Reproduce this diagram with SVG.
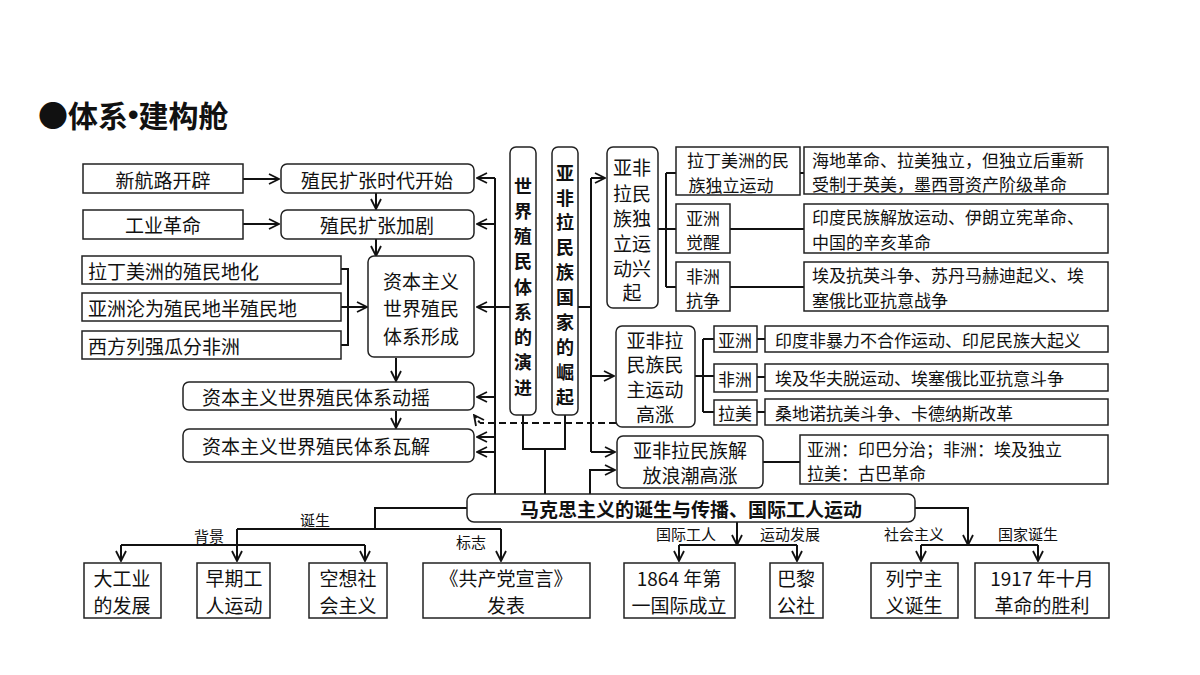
<svg xmlns="http://www.w3.org/2000/svg" width="1200" height="675" viewBox="0 0 1200 675">
<defs>
<marker id="a" viewBox="0 0 12 12" refX="11" refY="6" markerWidth="12" markerHeight="12" markerUnits="userSpaceOnUse" orient="auto"><path d="M1,1 L11,6 L1,11" fill="none" stroke="#111" stroke-width="1.8"/></marker>
</defs>
<style>
text{font-family:"Noto Sans CJK SC","Noto Sans",sans-serif;fill:#111;text-anchor:middle;dominant-baseline:central}
.t{font-size:19px}
.s{font-size:17px}
.b{font-weight:bold;font-size:19px}
.v{font-weight:bold;font-size:18px}
.r{fill:#fff;stroke:#222;stroke-width:1.5}
.c{fill:none;stroke:#111;stroke-width:2}
.l{font-size:15px}
</style>
<rect width="1200" height="675" fill="#fff"/>
<text x="38" y="114" style="font-size:30px;font-weight:bold;text-anchor:start">●体系<tspan style="font-family:'Liberation Sans',sans-serif">•</tspan>建构舱</text>

<g id="connectors">
<path class="c" d="M243,179 H279" marker-end="url(#a)"/>
<path class="c" d="M243,224 H279" marker-end="url(#a)"/>
<path class="c" d="M376,193 V209" marker-end="url(#a)"/>
<path class="c" d="M376,239 V256" marker-end="url(#a)"/>
<path class="c" d="M341,269 H348 V345 H341 M341,307 H367" marker-end="url(#a)"/>
<path class="c" d="M396,358 V381" marker-end="url(#a)"/>
<path class="c" d="M396,411 V428" marker-end="url(#a)"/>
<path class="c" d="M495,178 V498"/>
<path class="c" d="M495,178 H477" marker-end="url(#a)"/>
<path class="c" d="M495,224 H477" marker-end="url(#a)"/>
<path class="c" d="M510,307 H477" marker-end="url(#a)"/>
<path class="c" d="M495,397 H477" marker-end="url(#a)"/>
<path class="c" d="M495,437 H477" marker-end="url(#a)"/>
<path class="c" d="M495,452 H477" marker-end="url(#a)"/>
<path class="c" d="M523,415 V449 H565 V415 M545,449 V494"/>
<path class="c" d="M578,307 H591 M591,178 V452"/>
<path class="c" d="M591,178 H605" marker-end="url(#a)"/>
<path class="c" d="M591,376 H614" marker-end="url(#a)"/>
<path class="c" d="M591,452 H615" marker-end="url(#a)"/>
<path class="c" d="M590,494 V470 H615" marker-end="url(#a)"/>
<path d="M616,423 H480" fill="none" stroke="#111" stroke-width="2" stroke-dasharray="7,4"/>
<path class="c" d="M480,423 L474,415" marker-end="url(#a)" stroke-dasharray="3,3"/>
<path class="c" d="M658,229 H666 M666,173 V287 M666,173 H676 M666,229 H676 M666,287 H676 M800,173 H804 M730,229 H804 M730,287 H804"/>
<path class="c" d="M695,376 H703 M703,339 V412 M703,339 H714 M703,376 H714 M703,412 H714 M757,339 H765 M757,377 H765 M757,412 H765"/>
<path class="c" d="M763,462 H800"/>
<path class="c" d="M467,508 H375 V529 M237,529 H501 M121,545 H365"/>
<path class="c" d="M121,545 V561" marker-end="url(#a)"/>
<path class="c" d="M237,529 V561" marker-end="url(#a)"/>
<path class="c" d="M365,545 V561" marker-end="url(#a)"/>
<path class="c" d="M501,529 V561" marker-end="url(#a)"/>
<path class="c" d="M737,521 V545" marker-end="url(#a)"/>
<path class="c" d="M679,545 H797"/>
<path class="c" d="M679,545 V561" marker-end="url(#a)"/>
<path class="c" d="M797,545 V561" marker-end="url(#a)"/>
<path class="c" d="M915,508 H968 V545" marker-end="url(#a)"/>
<path class="c" d="M921,545 H1038"/>
<path class="c" d="M921,545 V561" marker-end="url(#a)"/>
<path class="c" d="M1038,545 V561" marker-end="url(#a)"/>
<text class="l" x="315" y="519">诞生</text>
<text class="l" x="209" y="535">背景</text>
<text class="l" x="471" y="541">标志</text>
<text class="l" x="686" y="533">国际工人</text>
<text class="l" x="790" y="533">运动发展</text>
<text class="l" x="914" y="533">社会主义</text>
<text class="l" x="1028" y="533">国家诞生</text>
</g>

<g id="n1"><rect class="r" x="83" y="164" width="160" height="29"/><text class="t" x="163" y="179">新航路开辟</text></g>
<g id="n2"><rect class="r" x="83" y="210" width="160" height="29"/><text class="t" x="163" y="224">工业革命</text></g>
<g id="n3"><rect class="r" x="281" y="164" width="193" height="29" rx="6"/><text class="t" x="377" y="179">殖民扩张时代开始</text></g>
<g id="n4"><rect class="r" x="281" y="210" width="193" height="29" rx="6"/><text class="t" x="377" y="224">殖民扩张加剧</text></g>
<g id="n5"><rect class="r" x="82" y="256" width="259" height="28"/><text class="t" x="88" y="270" style="text-anchor:start">拉丁美洲的殖民地化</text></g>
<g id="n6"><rect class="r" x="82" y="293" width="259" height="28"/><text class="t" x="88" y="307" style="text-anchor:start">亚洲沦为殖民地半殖民地</text></g>
<g id="n7"><rect class="r" x="82" y="331" width="259" height="28"/><text class="t" x="88" y="345" style="text-anchor:start">西方列强瓜分非洲</text></g>
<g id="n8"><rect class="r" x="368" y="256" width="106" height="101" rx="6"/><text class="t" x="421" y="280">资本主义</text><text class="t" x="421" y="307">世界殖民</text><text class="t" x="421" y="335">体系形成</text></g>
<g id="n9"><rect class="r" x="183" y="382" width="291" height="28" rx="6"/><text class="t" x="316" y="396">资本主义世界殖民体系动摇</text></g>
<g id="n10"><rect class="r" x="183" y="429" width="291" height="33" rx="6"/><text class="t" x="316" y="445">资本主义世界殖民体系瓦解</text></g>
<g id="n11"><rect class="r" x="510" y="147" width="26" height="268" rx="6"/>
<text class="v" x="523" y="185">世</text><text class="v" x="523" y="210">界</text><text class="v" x="523" y="235">殖</text><text class="v" x="523" y="260">民</text><text class="v" x="523" y="286">体</text><text class="v" x="523" y="311">系</text><text class="v" x="523" y="336">的</text><text class="v" x="523" y="361">演</text><text class="v" x="523" y="387">进</text></g>
<g id="n12"><rect class="r" x="552" y="147" width="26" height="268" rx="6"/>
<text class="v" x="565" y="172">亚</text><text class="v" x="565" y="197">非</text><text class="v" x="565" y="221">拉</text><text class="v" x="565" y="246">民</text><text class="v" x="565" y="271">族</text><text class="v" x="565" y="296">国</text><text class="v" x="565" y="321">家</text><text class="v" x="565" y="346">的</text><text class="v" x="565" y="371">崛</text><text class="v" x="565" y="396">起</text></g>
<g id="n13"><rect class="r" x="607" y="147" width="51" height="161" rx="6"/>
<text class="t" x="632" y="166">亚非</text><text class="t" x="632" y="192">拉民</text><text class="t" x="632" y="217">族独</text><text class="t" x="632" y="242">立运</text><text class="t" x="632" y="267">动兴</text><text class="t" x="632" y="291">起</text></g>
<g id="n14"><rect class="r" x="676" y="147" width="124" height="48"/><text class="s" x="738" y="159">拉丁美洲的民</text><text class="s" x="731" y="184">族独立运动</text></g>
<g id="n15"><rect class="r" x="676" y="204" width="54" height="49"/><text class="s" x="703" y="217">亚洲</text><text class="s" x="703" y="241">觉醒</text></g>
<g id="n16"><rect class="r" x="676" y="262" width="54" height="49"/><text class="s" x="703" y="275">非洲</text><text class="s" x="703" y="299">抗争</text></g>
<g id="n17"><rect class="r" x="804" y="147" width="304" height="47"/><text class="s" x="812" y="159" style="text-anchor:start">海地革命、拉美独立，但独立后重新</text><text class="s" x="812" y="183" style="text-anchor:start">受制于英美，墨西哥资产阶级革命</text></g>
<g id="n18"><rect class="r" x="804" y="204" width="304" height="49"/><text class="s" x="812" y="216" style="text-anchor:start">印度民族解放运动、伊朗立宪革命、</text><text class="s" x="812" y="241" style="text-anchor:start">中国的辛亥革命</text></g>
<g id="n19"><rect class="r" x="804" y="262" width="304" height="49"/><text class="s" x="812" y="274" style="text-anchor:start">埃及抗英斗争、苏丹马赫迪起义、埃</text><text class="s" x="812" y="299" style="text-anchor:start">塞俄比亚抗意战争</text></g>
<g id="n20"><rect class="r" x="616" y="326" width="79" height="101" rx="6"/><text class="t" x="655" y="339">亚非拉</text><text class="t" x="655" y="363">民族民</text><text class="t" x="655" y="388">主运动</text><text class="t" x="655" y="413">高涨</text></g>
<g id="n21"><rect class="r" x="714" y="326" width="43" height="26"/><text class="s" x="735" y="339">亚洲</text></g>
<g id="n22"><rect class="r" x="714" y="364" width="43" height="28"/><text class="s" x="735" y="378">非洲</text></g>
<g id="n23"><rect class="r" x="714" y="400" width="43" height="25"/><text class="s" x="735" y="412">拉美</text></g>
<g id="n24"><rect class="r" x="765" y="326" width="343" height="26"/><text class="s" x="775" y="339" style="text-anchor:start">印度非暴力不合作运动、印尼民族大起义</text></g>
<g id="n25"><rect class="r" x="765" y="364" width="343" height="27"/><text class="s" x="775" y="377" style="text-anchor:start">埃及华夫脱运动、埃塞俄比亚抗意斗争</text></g>
<g id="n26"><rect class="r" x="765" y="399" width="343" height="26"/><text class="s" x="775" y="412" style="text-anchor:start">桑地诺抗美斗争、卡德纳斯改革</text></g>
<g id="n27"><rect class="r" x="617" y="436" width="146" height="52" rx="6"/><text class="t" x="690" y="449">亚非拉民族解</text><text class="t" x="690" y="474">放浪潮高涨</text></g>
<g id="n28"><rect class="r" x="800" y="435" width="308" height="49"/><text class="s" x="807" y="448" style="text-anchor:start">亚洲：印巴分治；非洲：埃及独立</text><text class="s" x="807" y="472" style="text-anchor:start">拉美：古巴革命</text></g>
<g id="n29"><rect class="r" x="467" y="494" width="448" height="28" rx="7"/><text class="b" x="691" y="508">马克思主义的诞生与传播、国际工人运动</text></g>
<g id="n30"><rect class="r" x="84" y="563" width="77" height="55"/><text class="t" x="122" y="577">大工业</text><text class="t" x="122" y="604">的发展</text></g>
<g id="n31"><rect class="r" x="197" y="563" width="73" height="55"/><text class="t" x="234" y="577">早期工</text><text class="t" x="234" y="604">人运动</text></g>
<g id="n32"><rect class="r" x="309" y="563" width="78" height="55"/><text class="t" x="348" y="577">空想社</text><text class="t" x="348" y="604">会主义</text></g>
<g id="n33"><rect class="r" x="423" y="563" width="167" height="55"/><text class="t" x="506" y="577">《共产党宣言》</text><text class="t" x="506" y="604">发表</text></g>
<g id="n34"><rect class="r" x="624" y="563" width="111" height="55"/><text class="t" x="679" y="577">1864 年第</text><text class="t" x="679" y="604">一国际成立</text></g>
<g id="n35"><rect class="r" x="770" y="563" width="53" height="55"/><text class="t" x="796" y="577">巴黎</text><text class="t" x="796" y="604">公社</text></g>
<g id="n36"><rect class="r" x="871" y="563" width="87" height="55"/><text class="t" x="914" y="577">列宁主</text><text class="t" x="914" y="604">义诞生</text></g>
<g id="n37"><rect class="r" x="975" y="563" width="134" height="55"/><text class="t" x="1042" y="577">1917 年十月</text><text class="t" x="1042" y="604">革命的胜利</text></g>
</svg>
